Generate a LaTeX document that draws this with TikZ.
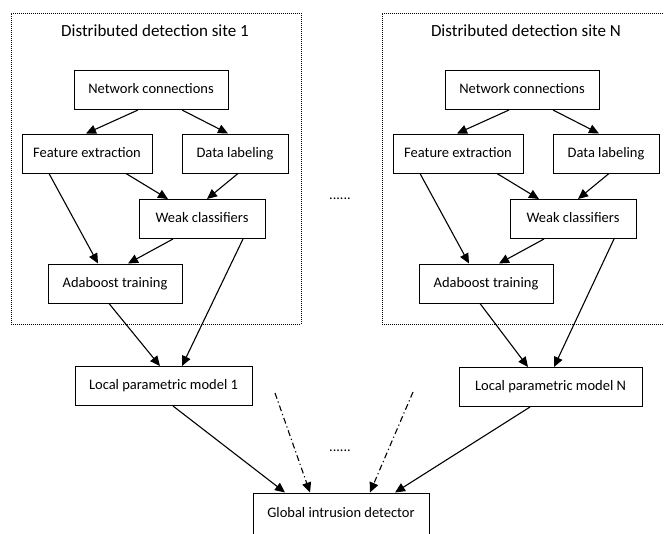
\documentclass[tikz,border=0pt]{standalone}
\usepackage{fontspec}
\setmainfont{Carlito}
\usetikzlibrary{arrows.meta,calc}
\tikzset{
  box/.style={draw, line width=1pt, minimum height=39pt, inner sep=0pt,
    font=\fontsize{14.5}{16}\selectfont, text height=10pt, text depth=3pt},
  arr/.style={line width=1.1pt, -{Triangle[length=10pt,width=9pt]}},
  siteframe/.style={draw, line width=0.7pt, dash pattern=on 1pt off 1pt, inner sep=0pt},
  ttl/.style={font=\fontsize{17}{20}\selectfont, inner sep=0pt},
  dd/.style={arr, dash pattern=on 6pt off 3pt on 1.2pt off 3pt},
  dotsnode/.style={font=\fontsize{14.3}{16}\selectfont, inner sep=0pt}
}
\newcommand\drawsite[3]{%
\begin{scope}[xshift=#1pt]
  \node[siteframe, minimum width=290pt, minimum height=311pt] (frame#2) at (156,168.5) {};
  \node[ttl] (title#2) at (155,31) {#3};
  \node[box, minimum width=154pt] (nc#2) at (151,90) {Network connections};
  \node[box, minimum width=130pt] (fe#2) at (87,153.5) {Feature extraction};
  \node[box, minimum width=106pt] (dl#2) at (235,153.5) {Data labeling};
  \node[box, minimum width=126pt] (wc#2) at (202,219) {Weak classifiers};
  \node[box, minimum width=134pt] (at#2) at (115,283.5) {Adaboost training};
  \draw[arr] ([xshift=-13pt]nc#2.south) -- ([xshift=-1pt]fe#2.north);
  \draw[arr] ([xshift=31pt]nc#2.south) -- ([xshift=-7pt]dl#2.north);
  \draw[arr] ([xshift=39pt]fe#2.south) -- ([xshift=-34pt]wc#2.north);
  \draw[arr] ([xshift=3pt]dl#2.south) -- ([xshift=5pt]wc#2.north);
  \draw[arr] ([xshift=-38pt]fe#2.south) -- ([xshift=-17pt]at#2.north);
  \draw[arr] ([xshift=-29pt]wc#2.south) -- ([xshift=13pt]at#2.north);
\end{scope}}
\begin{document}
\begin{tikzpicture}[x=1pt,y=-1pt]
  \useasboundingbox (0,0) rectangle (664,533);
  \clip (0,0) rectangle (664,533);
  \drawsite{0}{A}{Distributed detection site 1}
  \drawsite{371}{B}{Distributed detection site N}
  \node[dotsnode] (midots) at (340,199) {......};
  \node[box, minimum width=177pt] (lpmA) at (163.5,386) {Local parametric model 1};
  \node[box, minimum width=183pt] (lpmB) at (550.5,387) {Local parametric model N};
  \node[box, minimum width=176pt, minimum height=42pt] (gid) at (341,514) {Global intrusion detector};
  \node[dotsnode] (botdots) at (340,451) {......};
  \draw[arr] ([xshift=-6pt]atA.south) -- ([xshift=-3.5pt]lpmA.north);
  \draw[arr] ([xshift=41pt]wcA.south) -- ([xshift=18.5pt]lpmA.north);
  \draw[arr] ([xshift=-6pt]atB.south) -- ([xshift=-22.5pt]lpmB.north);
  \draw[arr] ([xshift=41pt]wcB.south) -- ([xshift=3.5pt]lpmB.north);
  \draw[arr] ([xshift=9.5pt]lpmA.south) -- ([xshift=-56pt]gid.north);
  \draw[arr] ([xshift=-20.5pt]lpmB.south) -- ([xshift=54pt]gid.north);
  \coordinate (ddl) at (275,393);
  \coordinate (ddr) at (413,392);
  \draw[dd] (ddl) -- ([xshift=-31pt]gid.north);
  \draw[dd] (ddr) -- ([xshift=29pt]gid.north);
\end{tikzpicture}
\end{document}
